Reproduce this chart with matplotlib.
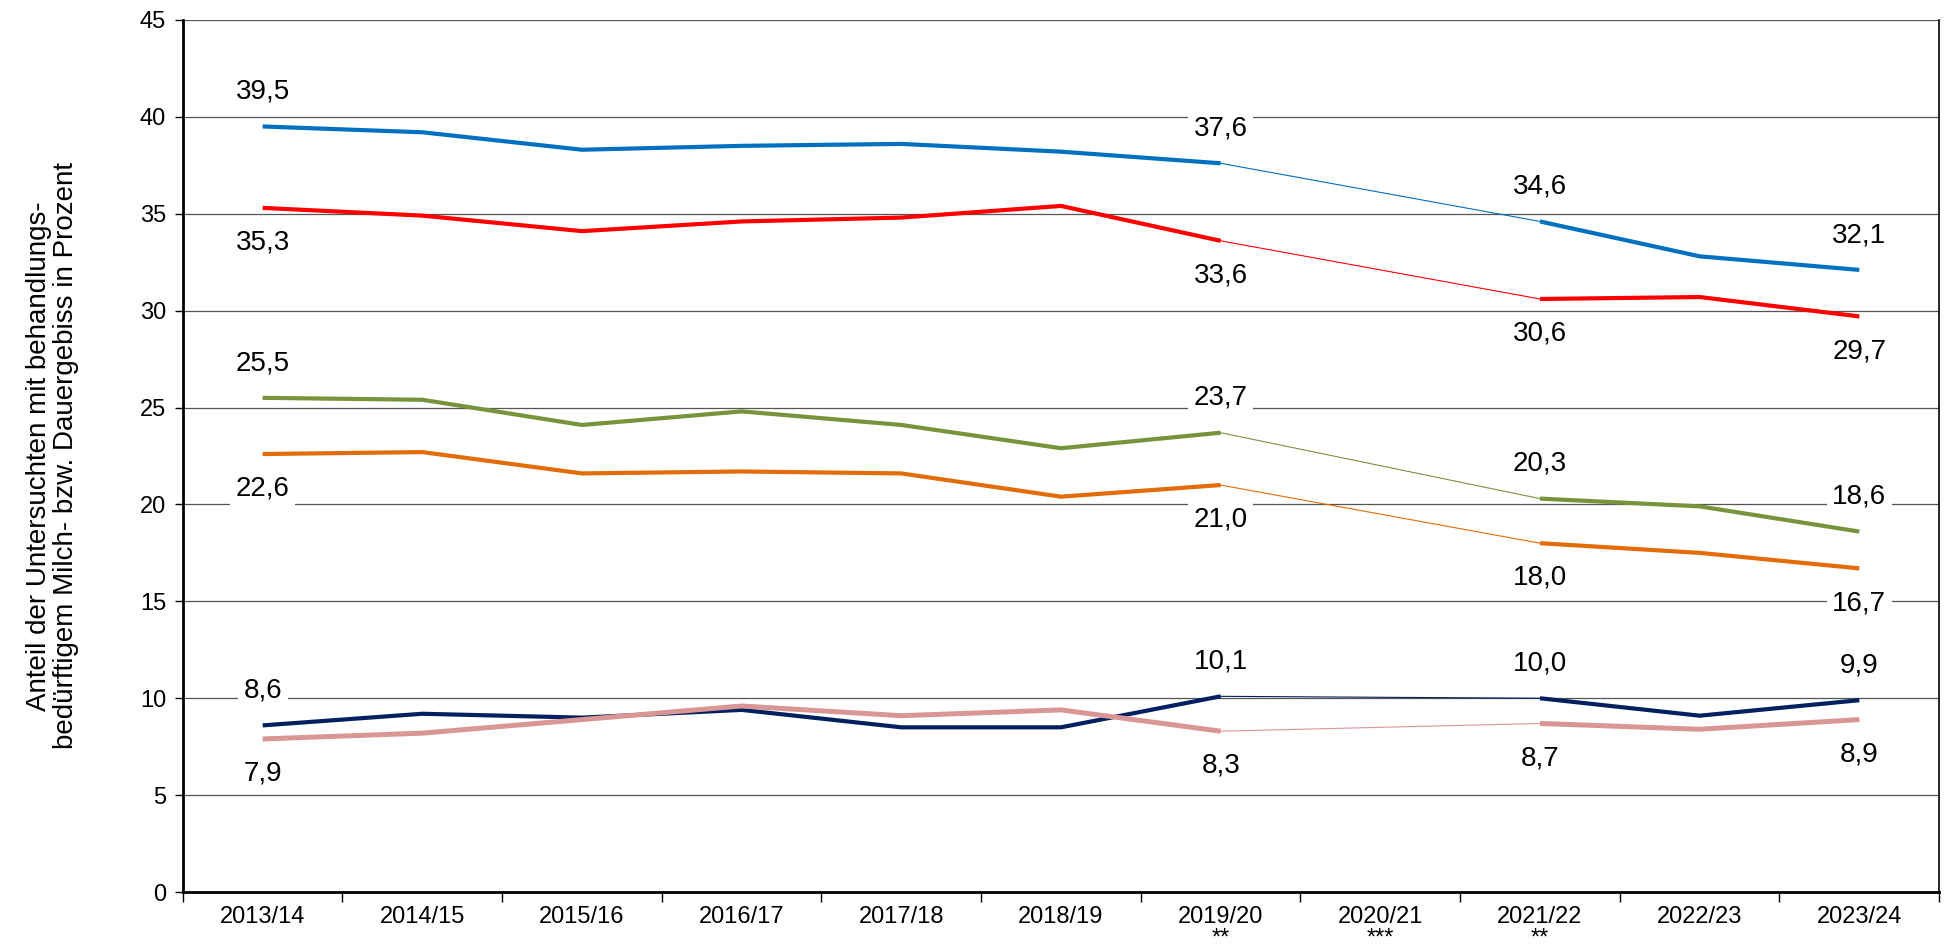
import numpy as np
import matplotlib.pyplot as plt

plt.rcParams['font.family'] = ['Liberation Sans', 'DejaVu Sans']

jahre = ["2013/14", "2014/15", "2015/16", "2016/17", "2017/18", "2018/19",
         "2019/20\n**", "2020/21\n***", "2021/22\n**", "2022/23", "2023/24"]

nan = np.nan
blau = [39.5, 39.2, 38.3, 38.5, 38.6, 38.2, 37.6, nan, 34.6, 32.8, 32.1]
rot = [35.3, 34.9, 34.1, 34.6, 34.8, 35.4, 33.6, nan, 30.6, 30.7, 29.7]
gruen = [25.5, 25.4, 24.1, 24.8, 24.1, 22.9, 23.7, nan, 20.3, 19.9, 18.6]
orange = [22.6, 22.7, 21.6, 21.7, 21.6, 20.4, 21.0, nan, 18.0, 17.5, 16.7]
navy = [8.6, 9.2, 9.0, 9.4, 8.5, 8.5, 10.1, nan, 10.0, 9.1, 9.9]
rosa = [7.9, 8.2, 8.9, 9.6, 9.1, 9.4, 8.3, nan, 8.7, 8.4, 8.9]

# welche Punkte beschriftet werden
beschriftet = [0, 6, 8, 10]

serien = [
    (blau, "#0070C0", 3.0, 1),
    (rot, "#FF0000", 3.0, -1),
    (gruen, "#77933C", 3.0, 1),
    (orange, "#E36C09", 3.0, -1),
    (navy, "#002060", 3.0, 1),
    (rosa, "#D99694", 3.6, -1),
]

fig = plt.figure(figsize=(19.45, 9.46), dpi=100)
ax = fig.add_axes([0.094, 0.057, 0.903, 0.922])

x = np.arange(len(jahre))
for werte, farbe, lw, richtung in serien:
    w = np.array(werte, dtype=float)
    ax.plot(x, w, color=farbe, lw=lw, solid_capstyle="butt", zorder=3)
    # duenne Verbindung ueber das fehlende Jahr
    ax.plot([6, 8], [w[6], w[8]], color=farbe, lw=0.8, zorder=3)
    for i in beschriftet:
        dy = 25 if richtung > 0 else -25
        ax.annotate(f"{w[i]:.1f}".replace(".", ","), (x[i], w[i]),
                    xytext=(0, dy), textcoords="offset points",
                    ha="center", va="center", fontsize=20,
                    bbox=dict(facecolor="white", edgecolor="none", pad=4),
                    zorder=4)

ax.set_xlim(-0.5, len(jahre) - 0.5)
ax.set_ylim(0, 45)
ax.set_yticks(range(0, 46, 5))
ax.yaxis.grid(True, color="#555555", lw=0.9)
ax.set_axisbelow(True)

ax.set_xticks(x)
ax.set_xticklabels(jahre, fontsize=17, linespacing=0.97)
ax.tick_params(axis="x", which="major", length=0, pad=10)
ax.set_xticks(np.arange(-0.5, len(jahre), 1), minor=True)
ax.tick_params(axis="x", which="minor", length=7, width=1)
ax.tick_params(axis="y", length=6, width=1, labelsize=17, pad=6)

ax.spines["left"].set_linewidth(2)
ax.spines["bottom"].set_linewidth(2)
ax.spines["right"].set_linewidth(1.2)
ax.spines["top"].set_visible(False)

ax.set_ylabel("Anteil der Untersuchten mit behandlungs-\nbedürftigem Milch- bzw. Dauergebiss in Prozent",
              fontsize=20, labelpad=44, linespacing=1.05)

fig.savefig("out.png", dpi=100)
